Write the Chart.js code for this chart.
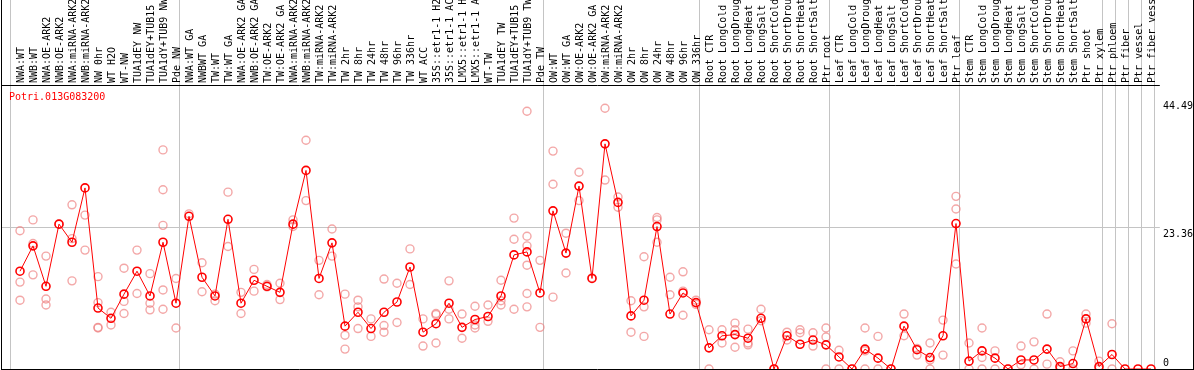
<!DOCTYPE html>
<html>
<head>
<meta charset="utf-8">
<script src="https://cdn.jsdelivr.net/npm/chart.js@4.4.1/dist/chart.umd.min.js"></script>
<style>
html,body{margin:0;padding:0;background:#ffffff;}
#wrap{width:1194px;height:370px;position:relative;overflow:hidden;}
canvas{display:block;}
</style>
</head>
<body>
<div id="wrap"><canvas id="c" width="1194" height="370"></canvas></div>
<script>
const geneId = 'Potri.013G083200';

const categories = [
  'NWA:WT','NWB:WT','NWA:OE-ARK2','NWB:OE-ARK2','NWA:miRNA-ARK2','NWB:miRNA-ARK2','NW 0hr','WT H2O','WT-NW',
  'TUA1dEY NW','TUA1dEY+TUB15','TUA1dY+TUB9 NW','Pde NW',
  'NWA:WT GA','NWBWT GA','TW:WT','TW:WT GA','NWA:OE-ARK2 GA','NWB:OE-ARK2 GA','TW:OE-ARK2','TW:OE-ARK2 GA',
  'NWA:miRNA-ARK2','NWB:miRNA-ARK2','TW:miRNA-ARK2','TW:miRNA-ARK2','TW 2hr','TW 8hr','TW 24hr','TW 48hr',
  'TW 96hr','TW 336hr','WT ACC','35S::etr1-1 H2','35S::etr1-1 AC','LMX5::etr1-1 H','LMX5::etr1-1 A','WT-TW',
  'TUA1dEY TW','TUA1dEY+TUB15','TUA1dY+TUB9 TW','Pde TW',
  'OW:WT','OW:WT GA','OW:OE-ARK2','OW:OE-ARK2 GA','OW:miRNA-ARK2','OW:miRNA-ARK2','OW 2hr','OW 8hr','OW 24hr',
  'OW 48hr','OW 96hr','OW 336hr',
  'Root CTR','Root LongCold','Root LongDroug','Root LongHeat','Root LongSalt','Root ShortCold','Root ShortDrou',
  'Root ShortHeat','Root ShortSalt','Ptr root',
  'Leaf CTR','Leaf LongCold','Leaf LongDroug','Leaf LongHeat','Leaf LongSalt','Leaf ShortCold','Leaf ShortDrou',
  'Leaf ShortHeat','Leaf ShortSalt','Ptr leaf',
  'Stem CTR','Stem LongCold','Stem LongDroug','Stem LongHeat','Stem LongSalt','Stem ShortCold','Stem ShortDrou',
  'Stem ShortHeat','Stem ShortSalt','Ptr shoot','Ptr xylem',
  'Ptr phloem','Ptr fiber','Ptr vessel','Ptr fiber vess'
];

const means = [
  16.2, 20.4, 13.7, 24.0, 21.0, 30.0, 10.1, 8.4, 12.4, 16.2, 12.1, 21.0, 10.9,
  25.3, 15.2, 12.1, 24.8, 10.9, 14.7, 13.7, 12.7, 24.0, 32.9, 15.0, 20.9, 7.1, 9.4, 6.7, 9.4,
  11.1, 16.9, 6.1, 7.5, 10.9, 6.9, 8.2, 8.7, 12.1, 18.9, 19.4, 12.6,
  26.2, 19.2, 30.3, 15.0, 37.3, 27.6, 8.8, 11.4, 23.6, 9.1, 12.6, 11.0,
  3.5, 5.5, 5.7, 5.1, 8.4, 0.0, 5.5, 4.1, 4.8, 4.0,
  2.0, 0.0, 3.3, 1.8, 0.0, 7.1, 3.2, 1.9, 5.5, 24.1,
  1.3, 3.0, 1.8, 0.0, 1.5, 1.5, 3.3, 0.4, 0.9, 8.3, 0.4,
  2.4, 0.0, 0.0, 0.0
];

const replicates = [
  [22.9, 14.4, 11.4], [24.7, 20.8, 15.6], [18.7, 11.6, 10.6], [24.0], [27.2, 21.6, 14.6], [25.5, 19.7],
  [15.3, 11.0, 6.9, 6.8], [9.4, 7.3], [16.7, 11.2, 9.2], [19.7, 12.5], [15.8, 10.9, 9.8],
  [36.3, 29.7, 23.8, 13.1, 9.9], [15.0, 6.8],
  [25.7], [17.6, 12.8], [12.4, 11.3], [29.3, 20.3], [12.7, 9.2], [16.5, 12.9], [14.0, 13.6], [14.2, 11.5],
  [24.7, 23.6], [37.9, 27.9], [18.0, 12.3], [23.2, 18.7], [12.4, 5.6, 3.3], [11.4, 10.3, 6.7], [8.3, 5.4],
  [14.9, 7.2, 6.1], [14.2, 7.7], [19.9, 14.0], [8.3, 3.8], [9.2, 9.0, 4.3], [14.6, 9.9, 8.3], [9.1, 5.1],
  [10.4, 7.3, 6.8], [10.6, 7.9], [14.7, 11.3, 10.6], [25.0, 21.5, 9.9], [42.7, 22.0, 20.4, 17.2, 12.5, 10.3],
  [18.0, 6.9],
  [36.1, 30.6, 11.9], [22.5, 15.9], [32.6, 27.9], [15.1], [43.2, 31.3], [28.5, 26.8], [11.3, 6.1],
  [18.6, 10.3, 5.4], [25.1, 24.7, 21.0], [15.2, 12.3], [16.1, 12.9, 8.9], [11.4, 10.7],
  [6.5, 0.0], [6.5, 4.3], [7.6, 6.5, 3.6], [6.6, 4.3, 4.0], [9.9, 8.0], [0.0], [6.1, 4.8], [6.5, 6.0],
  [6.0, 3.8], [6.8, 5.3, 0.0],
  [3.1, 0.0], [0.0], [6.8, 3.0, 0.0], [5.4, 0.0], [0.0], [9.1, 5.5], [3.4, 2.3], [4.3, 1.5, 0.0],
  [8.1, 2.3], [28.6, 26.5, 17.4],
  [4.3, 0.0], [6.8, 1.9, 0.0], [3.0, 0.0], [0.0], [3.8, 0.7], [4.5, 0.0], [9.1, 0.8], [1.2, 0.0],
  [3.0, 0.0], [9.1, 7.6], [1.3, 0.0],
  [7.5, 0.0], [], [], []
];

// group separators are drawn just after these category indices
const separatorsAfter = [-1, 12, 40, 52, 62, 72, 83, 84, 85, 86, 87];
const yTickValues = [0, 23.36, 44.49];
const yMax = 47.05;

const MONO = "'DejaVu Sans Mono', 'Liberation Mono', monospace";
const SEP_SHIFT = 0.3;
const xMin = -19 / 13;
const xMax = xMin + 1192 / 13;
const sepValues = separatorsAfter.map(k => k + SEP_SHIFT);
const isEdge = v => Math.abs(v - xMin) < 1e-6 || Math.abs(v - xMax) < 1e-6;
const isSep = v => Math.abs(v - Math.round(v)) > 0.01;

const meanData = means.map((v, i) => ({x: i, y: v}));
const repData = [];
replicates.forEach((arr, i) => arr.forEach(v => repData.push({x: i, y: v})));

const titlePlugin = {
  id: 'geneTitle',
  beforeDatasetsDraw(chart) {
    const {ctx, chartArea} = chart;
    ctx.save();
    ctx.font = "10px " + MONO;
    ctx.fillStyle = '#ff0000';
    ctx.textBaseline = 'middle';
    ctx.textAlign = 'left';
    ctx.fillText(geneId, chartArea.left + 8, chartArea.top + 12);
    ctx.restore();
  }
};

new Chart(document.getElementById('c'), {
  type: 'line',
  data: {
    datasets: [
      {
        label: geneId,
        data: meanData,
        borderColor: '#ff0000',
        borderWidth: 1,
        pointRadius: 4,
        pointBorderWidth: 1.6,
        pointBorderColor: '#ff0000',
        pointBackgroundColor: 'rgba(0,0,0,0)',
        tension: 0,
        xAxisID: 'x',
        yAxisID: 'y'
      },
      {
        label: 'replicates',
        type: 'scatter',
        data: repData,
        showLine: false,
        pointRadius: 4,
        pointBorderWidth: 1.4,
        pointBorderColor: 'rgba(238,125,125,0.68)',
        pointBackgroundColor: 'rgba(0,0,0,0)',
        xAxisID: 'x',
        yAxisID: 'y'
      }
    ]
  },
  options: {
    responsive: false,
    animation: false,
    events: [],
    layout: {autoPadding: false, padding: {left: 1, right: 0, top: 0, bottom: 1}},
    plugins: {legend: {display: false}, tooltip: {enabled: false}, title: {display: false}},
    scales: {
      x: {
        type: 'linear', position: 'top', min: xMin, max: xMax, bounds: 'data',
        afterBuildTicks: s => {
          const vals = [xMin].concat(categories.map((_, i) => i), sepValues, [xMax]).sort((a, b) => a - b);
          s.ticks = vals.map(v => ({value: v}));
        },
        afterFit: s => { s.height = 85; s.paddingLeft = 0; s.paddingRight = 0; },
        grid: {
          color: c => {
            if (!c.tick) return 'rgba(0,0,0,0)';
            if (isEdge(c.tick.value)) return '#000000';
            return isSep(c.tick.value) ? '#c4c4c4' : 'rgba(0,0,0,0)';
          },
          lineWidth: 1, drawTicks: true, tickLength: 85
        },
        border: {display: true, color: '#000000', width: 1},
        ticks: {
          autoSkip: false, minRotation: 90, maxRotation: 90, padding: -83, labelOffset: 13,
          color: '#000000', font: {family: MONO, size: 10, lineHeight: 1.2},
          callback: v => isSep(v) ? '' : (categories[Math.round(v)] || '')
        }
      },
      xb: {
        type: 'linear', position: 'bottom', min: xMin, max: xMax, display: true,
        grid: {display: false, drawTicks: false},
        ticks: {display: false},
        border: {display: true, color: '#000000', width: 1},
        afterFit: s => { s.height = 0; s.paddingLeft = 0; s.paddingRight = 0; }
      },
      y: {
        type: 'linear', position: 'right', min: 0, max: yMax,
        afterBuildTicks: s => { s.ticks = yTickValues.map(v => ({value: v})); },
        afterFit: s => { s.width = 1; s.paddingTop = 0; s.paddingBottom = 0; },
        grid: {
          color: c => (c.tick && c.tick.value === 23.36) ? '#c4c4c4' : 'rgba(0,0,0,0)',
          lineWidth: 1, drawTicks: false
        },
        border: {display: true, color: '#000000', width: 1},
        ticks: {
          autoSkip: false, mirror: true, padding: 0, color: '#000000', font: {family: MONO, size: 10, lineHeight: 1.2},
          showLabelBackdrop: c => !(c.tick && c.tick.value === 0),
          backdropColor: '#ffffff',
          backdropPadding: {top: 0, bottom: 0, left: 3, right: 0},
          callback: v => v === 0 ? ['0    ', ''] : ['', String(v)]
        }
      },
      yl: {
        type: 'linear', position: 'left', min: 0, max: 1, display: true,
        grid: {display: false, drawTicks: false},
        ticks: {display: false},
        border: {display: true, color: '#000000', width: 1},
        afterFit: s => { s.width = 0; s.paddingTop = 0; s.paddingBottom = 0; }
      }
    }
  },
  plugins: [titlePlugin]
});
</script>
</body>
</html>
